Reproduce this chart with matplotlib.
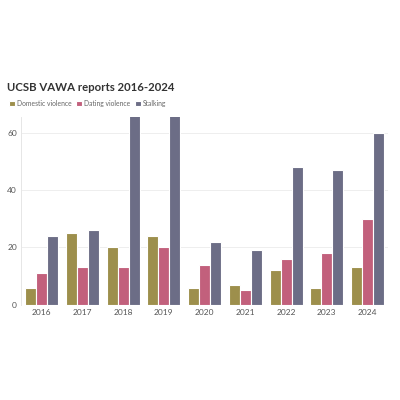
import numpy as np
import matplotlib.pyplot as plt

years = ['2016', '2017', '2018', '2019', '2020', '2021', '2022', '2023', '2024']
domestic = [6, 25, 20, 24, 6, 7, 12, 6, 13]
dating = [11, 13, 13, 20, 14, 5, 16, 18, 30]
stalking = [24, 26, 66, 66, 22, 19, 48, 47, 60]

series = [('Domestic violence', domestic, '#9d8f4c'),
          ('Dating violence', dating, '#c2607c'),
          ('Stalking', stalking, '#6c6d86')]

plt.rcParams['font.family'] = ['Lato', 'DejaVu Sans']

fig = plt.figure(figsize=(4, 4), dpi=100)
ax = fig.add_axes([0.053, 0.238, 0.917, 0.47])

x = np.arange(len(years))
w = 0.27
for i, (name, vals, col) in enumerate(series):
    ax.bar(x + (i - 1) * w, vals, width=w, color=col, edgecolor='white',
           linewidth=0.8, label=name, zorder=2)

ax.set_xlim(-0.5, len(years) - 0.5)
ax.set_ylim(0, 65.5)
ax.set_yticks([0, 20, 40, 60])
ax.set_xticks(x)
ax.set_xticklabels(years)
ax.tick_params(axis='both', labelsize=6, colors='#555555', length=0, pad=3)
ax.grid(axis='y', color='#eeeeee', linewidth=0.7, zorder=0)
for s in ['top', 'right', 'bottom']:
    ax.spines[s].set_visible(False)
ax.spines['left'].set_color('#e6e6e6')
ax.spines['left'].set_linewidth(0.7)

fig.text(0.018, 0.782, 'UCSB VAWA reports 2016-2024', fontsize=8.2,
         fontweight='bold', color='#333333', va='center')
fig.legend(loc='center left', bbox_to_anchor=(0.008, 0.742), ncol=3, frameon=False,
           fontsize=4.9, handlelength=0.9, handleheight=0.9, handletextpad=0.3,
           columnspacing=0.6, labelcolor='#666666')

fig.savefig('out.png', dpi=100)
